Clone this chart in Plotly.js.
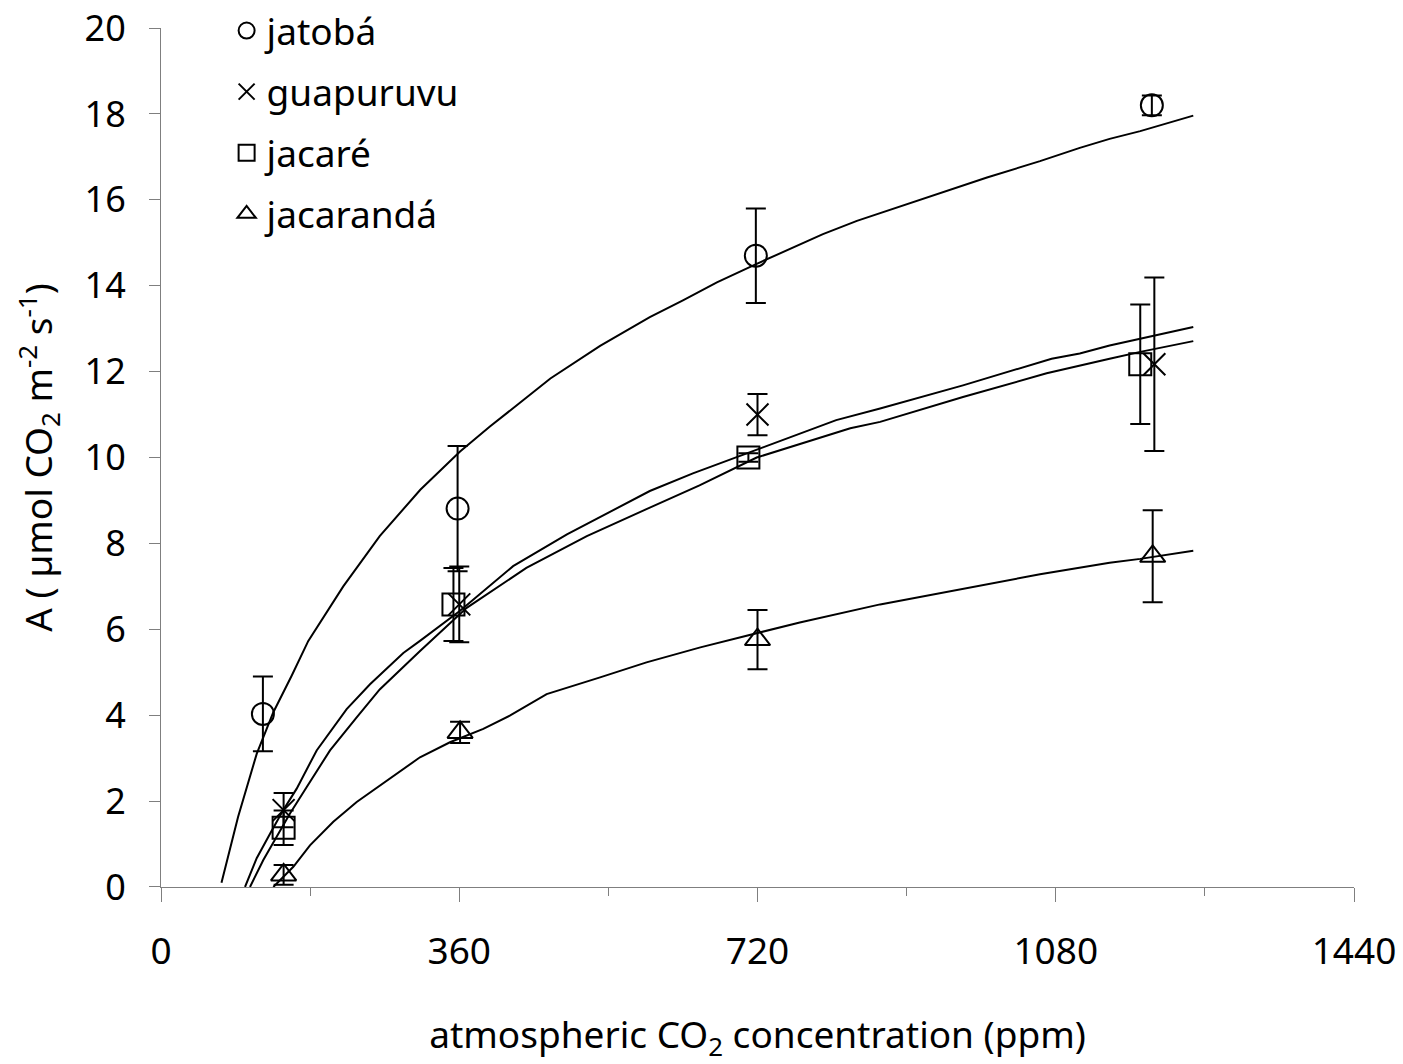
<!DOCTYPE html>
<html>
<head>
<meta charset="utf-8">
<script src="https://cdn.plot.ly/plotly-3.0.1.min.js"></script>
<style>html,body{margin:0;padding:0;background:#fff;}</style>
</head>
<body>
<div id="chart" style="width:1403px;height:1064px;"></div>
<script>
// ---- measured points (mean ± error) ----
const seriesNames = ["jatobá", "guapuruvu", "jacaré", "jacarandá"];

const jatobaX = [123, 358, 718, 1196];
const jatobaY = [4.03, 8.81, 14.70, 18.2];
const jatobaErr = [0.87, 1.46, 1.1, 0.23];

const guapuruvuX = [148, 360, 720, 1199];
const guapuruvuY = [1.79, 6.58, 11.0, 12.17];
const guapuruvuErr = [0.4, 0.88, 0.48, 2.02];

const jacareX = [148, 353, 709, 1182];
const jacareY = [1.38, 6.58, 10.0, 12.17];
const jacareErr = [0.4, 0.85, 0.1, 1.39];

const jacarandaX = [148, 361, 720, 1197];
const jacarandaY = [0.28, 3.6, 5.76, 7.7];
const jacarandaErr = [0.23, 0.25, 0.69, 1.07];

// ---- fitted curves ----
const curveJatobaX = [73, 93, 115.5, 135.6, 157.7, 177.8, 220, 264, 313, 361, 397, 435, 470, 530, 590, 630, 671, 719, 759, 799, 840, 870, 932, 997, 1061, 1109, 1145, 1182, 1246];
const curveJatobaY = [0.1, 1.63, 3.1, 4.07, 4.92, 5.73, 7.0, 8.17, 9.25, 10.14, 10.72, 11.3, 11.84, 12.6, 13.27, 13.66, 14.08, 14.51, 14.86, 15.2, 15.51, 15.7, 16.11, 16.52, 16.9, 17.21, 17.42, 17.6, 17.96];

const curveGuapuruvuX = [101.4, 115.5, 131.6, 147.6, 163.8, 187.9, 224.1, 252.3, 292.5, 312.6, 361, 425, 490, 554, 590, 642, 699, 771, 815, 868, 932, 968, 1075, 1109, 1145, 1182, 1246];
const curveGuapuruvuY = [0, 0.67, 1.24, 1.79, 2.29, 3.18, 4.14, 4.72, 5.45, 5.73, 6.43, 7.47, 8.21, 8.86, 9.22, 9.63, 10.04, 10.56, 10.87, 11.14, 11.49, 11.68, 12.3, 12.42, 12.61, 12.77, 13.04];

const curveJacareX = [107.4, 123.5, 139.6, 155.7, 175.9, 204, 236.2, 264, 313, 369, 441, 514, 586, 650, 719, 771, 832, 868, 968, 1069, 1109, 1145, 1182, 1246];
const curveJacareY = [0, 0.63, 1.17, 1.71, 2.33, 3.18, 3.95, 4.6, 5.5, 6.5, 7.43, 8.17, 8.8, 9.35, 10.0, 10.31, 10.68, 10.83, 11.41, 11.96, 12.13, 12.3, 12.46, 12.71];

const curveJacarandaX = [135.6, 159.7, 179.8, 208, 236.2, 272.4, 312.6, 348.8, 389, 421, 465.5, 530, 586, 651, 707, 771, 868, 964, 1061, 1145, 1182, 1246];
const curveJacarandaY = [0, 0.47, 0.97, 1.52, 1.98, 2.48, 3.02, 3.37, 3.68, 3.99, 4.49, 4.88, 5.23, 5.58, 5.85, 6.16, 6.58, 6.93, 7.28, 7.55, 7.64, 7.83];

// ---- axis ticks ----
const xTickVals = [0, 360, 720, 1080, 1440];
const yTickVals = [0, 2, 4, 6, 8, 10, 12, 14, 16, 18, 20];

const FONT = "Noto Sans, Liberation Sans, sans-serif";
const AX = "#7f7f7f";

function curve(x, y) {
  return {x: x, y: y, type: "scatter", mode: "lines", showlegend: false,
          hoverinfo: "skip", line: {color: "#000", width: 2}};
}
function pts(name, x, y, err, symbol, group) {
  return {x: x, y: y, name: name, type: "scatter", mode: "markers",
          legendgroup: group,
          marker: {symbol: symbol, size: 22, color: "#000", line: {color: "#000", width: 2}},
          error_y: {type: "data", array: err, visible: true, color: "#000", thickness: 2, width: 10}};
}

const data = [
  curve(curveJatobaX, curveJatobaY),
  curve(curveGuapuruvuX, curveGuapuruvuY),
  curve(curveJacareX, curveJacareY),
  curve(curveJacarandaX, curveJacarandaY),
  pts(seriesNames[0], jatobaX, jatobaY, jatobaErr, "circle-open", "g1"),
  pts(seriesNames[1], guapuruvuX, guapuruvuY, guapuruvuErr, "x-thin-open", "g2"),
  pts(seriesNames[2], jacareX, jacareY, jacareErr, "square-open", "g3"),
  pts(seriesNames[3], jacarandaX, jacarandaY, jacarandaErr, "triangle-up-open", "g4")
];

const layout = {
  width: 1403, height: 1064,
  margin: {l: 161, r: 49, t: 0, b: 177},
  paper_bgcolor: "#fff", plot_bgcolor: "#fff",
  font: {family: FONT, size: 37, color: "#000"},
  showlegend: true,
  legend: {x: 0.055, y: 1.0, xanchor: "left", yanchor: "top",
           font: {family: FONT, size: 37, color: "#000"},
           bgcolor: "rgba(0,0,0,0)", traceorder: "grouped", tracegroupgap: 10},
  xaxis: {
    range: [0, 1440], tickmode: "array", tickvals: xTickVals,
    ticks: "outside", ticklen: 14, tickwidth: 1, tickcolor: AX,
    minor: {dtick: 180, tick0: 0, ticks: "outside", ticklen: 8, tickwidth: 1, tickcolor: AX},
    showline: true, linecolor: AX, linewidth: 1,
    showgrid: false, zeroline: false,
    ticklabelstandoff: 18, ticklabeloverflow: "allow",
    tickfont: {family: FONT, size: 37, color: "#000"},
    title: {text: "atmospheric CO<sub>2</sub> concentration (ppm)", standoff: 47,
            font: {family: FONT, size: 37, color: "#000"}}
  },
  yaxis: {
    domain: [0, 0.9684],
    range: [0, 20], tickmode: "array", tickvals: yTickVals,
    ticks: "outside", ticklen: 11, tickwidth: 1, tickcolor: AX,
    showline: true, linecolor: AX, linewidth: 1,
    showgrid: false, zeroline: false,
    ticklabelstandoff: 16, ticklabeloverflow: "allow",
    tickfont: {family: FONT, size: 36, color: "#000"},
    title: {text: "A ( µmol CO<sub>2</sub> m<sup>-2</sup> s<sup>-1</sup>)", standoff: 20,
            font: {family: FONT, size: 37, color: "#000"}}
  }
};

Plotly.newPlot("chart", data, layout, {displayModeBar: false, staticPlot: true});
</script>
</body>
</html>
